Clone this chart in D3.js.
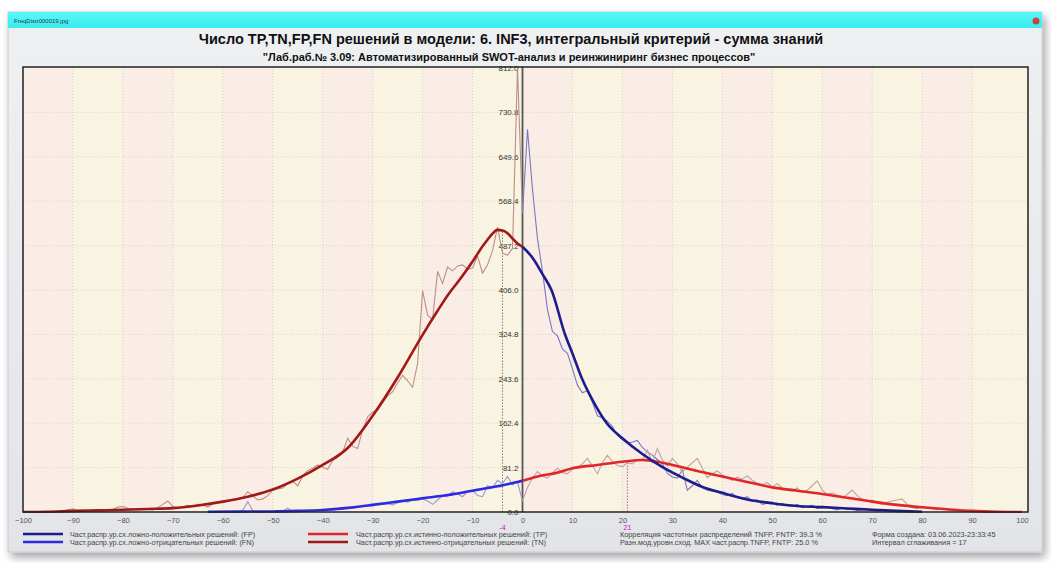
<!DOCTYPE html>
<html><head><meta charset="utf-8">
<script src="https://cdn.jsdelivr.net/npm/d3@7"></script>
<style>body{margin:0;background:#fff;}svg{display:block;font-family:"Liberation Sans",Arial,sans-serif;}</style>
</head><body>
<script>
// ---------- data ----------
const titleText = "Число TP,TN,FP,FN решений в модели: 6. INF3, интегральный критерий - сумма знаний";
const subtitleText = "\"Лаб.раб.№ 3.09: Автоматизированный SWOT-анализ и реинжиниринг бизнес процессов\"";
const windowCaption = "FreqDistr000019.jpg";
const xTicks = [-100,-90,-80,-70,-60,-50,-40,-30,-20,-10,0,10,20,30,40,50,60,70,80,90,100];
const yTicks = [0,81.2,162.4,243.6,324.8,406.0,487.2,568.4,649.6,730.8,812.0];
const modeMarks = [{x:-4, top:516, label:"-4"}, {x:21, top:93, label:"21"}];

// smoothed distributions
const tnSmoothX = [-100,-95,-90,-85,-80,-75,-70,-65,-60,-55,-50,-45,-40,-35,-30,-25,-20,-17,-15,-12,-10,-9,-8,-7,-6,-5,-4,-3,-2,-1,0];
const tnSmoothY = [0,0.5,2,3,4,5.5,7,12,19,28,41,61,86,117,176,246,324,368,396,432,458,472,486,498,509,516,515,510,500,491,485];
const fpSmoothX = [0,2,4,5.8,8.5,10,11.9,14,16.9,20,24,28.2,32,36,40,45,50,55,60,65,70,75,80];
const fpSmoothY = [485,465,435,406,325,290,244,205,162,135,106,81,63,46,35,23,16,11,9,6.5,4,2,0.5];
const tpSmoothX = [0,3,7,10,15,20,24,27,30,35,40,45,50,55,60,65,70,75,80,85,90,95,100];
const tpSmoothY = [57,65,72,80,86,92,95,92,86,75,65,55,45,39,33,26,19,13,8.6,5,2,0.5,0];
const fnSmoothX = [-63,-55,-50,-45,-40,-35,-30,-25,-20,-15,-10,-5,-1,0];
const fnSmoothY = [0.5,0.8,1,2,3.7,7.5,13,19,25,31,39,47,55,57];

// raw (unsmoothed) distributions, one value per unit step
const tnRawStart = -95;
const tnRaw = [1,0,1,2,4,6,2,1,2,3,2,4,3,5,9,10,7,5,4,6,5,4,8,14,20,10,7,9,12,10,14,13,9,15,18,17,20,22,24,26,37,30,22,24,30,40,42,44,52,56,48,66,76,80,86,82,78,94,100,110,135,120,116,150,174,183,186,200,212,220,236,250,240,228,272,405,360,352,440,418,448,441,450,452,444,446,468,437,452,478,521,473,470,482,812,545];
const fnRawStart = -62;
const fnRaw = [0,0,1,0,1,0,3,19,2,1,0,1,1,2,1,7,1,2,1,3,2,4,3,5,4,6,5,8,7,9,10,12,11,16,14,15,13,17,20,18,22,21,24,20,14,22,30,28,37,33,28,38,40,30,28,48,44,58,52,65,50,55,20];
const fpRawStart = 0;
const fpRaw = [545,700,590,500,440,370,330,322,298,290,262,232,218,222,200,176,172,166,156,140,132,126,128,131,118,110,104,96,88,71,64,62,77,40,48,58,44,40,38,36,32,30,34,26,24,28,20,22,14,16,18,12,16,12,10,14,8,10,12,6,8,10,6,4,8,5,6,3,4,6,3,2,4,2,1,2,1,1,0,1,0];
const tpRawStart = 0;
const tpRaw = [20,45,62,74,66,62,72,80,72,70,78,82,88,98,84,70,90,104,92,85,83,90,88,96,94,113,90,116,95,84,98,88,73,82,90,98,80,63,70,75,68,62,58,64,60,66,58,52,50,54,46,52,44,40,38,44,36,40,48,57,40,32,35,30,26,32,40,30,24,20,22,16,14,18,20,22,24,14,8,6,10,7,6,4,5,4,3,4,2,3,2,1,1,0,1,0];

const legendLeft = [
  {label:"Част.распр.ур.сх.ложно-положительных решений: (FP)", color:"#1c1c8e"},
  {label:"Част.распр.ур.сх.ложно-отрицательных решений: (FN)", color:"#2a2ae0"}
];
const legendMid = [
  {label:"Част.распр.ур.сх.истинно-положительных решений: (TP)", color:"#e02626"},
  {label:"Част.распр.ур.сх.истинно-отрицательных решений: (TN)", color:"#a01818"}
];
const infoLines1 = ["Корреляция частотных распределений TNFP, FNTP: 39.3 %", "Разн.мод.уровн.сход. MAX част.распр.TNFP, FNTP:  25.0 %"];
const infoLines2 = ["Форма создана: 03.06.2023-23:33:45", "Интервал сглаживания = 17"];

// ---------- drawing ----------
const W = 1051, H = 563;
const svg = d3.select("body").append("svg").attr("width", W).attr("height", H);
const defs = svg.append("defs");
const sh = defs.append("filter").attr("id","shadow").attr("x","-5%").attr("y","-5%").attr("width","115%").attr("height","120%");
sh.append("feDropShadow").attr("dx",3).attr("dy",5).attr("stdDeviation",4).attr("flood-color","#000").attr("flood-opacity",0.35);
const bodyGrad = defs.append("linearGradient").attr("id","bodyGrad").attr("x1",0).attr("y1",0).attr("x2",0).attr("y2",1);
bodyGrad.append("stop").attr("offset","0%").attr("stop-color","#eef0f2");
bodyGrad.append("stop").attr("offset","100%").attr("stop-color","#e2e4e7");
const capGrad = defs.append("linearGradient").attr("id","capGrad").attr("x1",0).attr("y1",0).attr("x2",0).attr("y2",1);
capGrad.append("stop").attr("offset","0%").attr("stop-color","#5af8f8");
capGrad.append("stop").attr("offset","100%").attr("stop-color","#38ecee");

svg.append("rect").attr("width",W).attr("height",H).attr("fill","#fff");
// window
svg.append("rect").attr("x",8).attr("y",12).attr("width",1034).attr("height",540)
  .attr("fill","url(#bodyGrad)").attr("stroke","#c8cacd").attr("filter","url(#shadow)");
svg.append("rect").attr("x",8).attr("y",12).attr("width",1034).attr("height",16).attr("fill","url(#capGrad)");
svg.append("text").attr("x",14).attr("y",23).attr("font-size",6).attr("fill","#335").text(windowCaption);
svg.append("circle").attr("cx",1036).attr("cy",21).attr("r",3.5).attr("fill","#d04040");

const L = 23, R = 1028, T = 67, B = 512;
const x = d3.scaleLinear().domain([-100,100]).range([23,1022]);
const y = d3.scaleLinear().domain([0,812]).range([512,68]);

const plot = svg.append("g");
// vertical bands
const bandStarts = d3.range(0,20);
plot.selectAll("rect.band").data(bandStarts).join("rect")
  .attr("x", i => x(-100 + 10*i))
  .attr("width", i => (i===19 ? R : x(-90 + 10*i)) - x(-100 + 10*i))
  .attr("y", T).attr("height", B - T)
  .attr("fill", i => i % 2 === 0 ? "#faede5" : "#f9f3e2");

// grid
plot.selectAll("line.vg").data(xTicks.filter(v => v>-100 && v<100 && v!==0)).join("line")
  .attr("x1", d => x(d)).attr("x2", d => x(d)).attr("y1", T).attr("y2", B)
  .attr("stroke","#d9d2cb").attr("stroke-width",1).attr("stroke-dasharray","1,2");
plot.selectAll("line.hg").data(yTicks.filter(v => v>0 && v<812)).join("line")
  .attr("x1", L).attr("x2", R).attr("y1", d => y(d)).attr("y2", d => y(d))
  .attr("stroke","#d9d2cb").attr("stroke-width",1).attr("stroke-dasharray","1,2");

// mode markers
plot.selectAll("line.mode").data(modeMarks).join("line")
  .attr("x1", d => x(d.x)).attr("x2", d => x(d.x)).attr("y1", B).attr("y2", d => y(d.top))
  .attr("stroke","#8a7f80").attr("stroke-width",1).attr("stroke-dasharray","1.5,1.5");

// zero axis
plot.append("line").attr("x1",x(0)).attr("x2",x(0)).attr("y1",T).attr("y2",B)
  .attr("stroke","#555").attr("stroke-width",1.8);

// y labels
plot.selectAll("text.yl").data(yTicks).join("text")
  .attr("x", x(0) - 4).attr("y", d => y(d) + 3)
  .attr("text-anchor","end").attr("font-size",8).attr("fill","#333")
  .text(d => d.toFixed(1));

// lines
const clip = defs.append("clipPath").attr("id","plotClip");
clip.append("rect").attr("x",L).attr("y",T).attr("width",R-L).attr("height",B-T+1);
const lines = plot.append("g").attr("clip-path","url(#plotClip)");
const smoothLine = d3.line().x(d => x(d[0])).y(d => y(d[1])).curve(d3.curveMonotoneX);
const rawLine = d3.line().x(d => x(d[0])).y(d => y(d[1]));
const zipXY = (xs, ys) => xs.map((v,i) => [v, ys[i]]);
const rawPts = (start, vals) => vals.map((v,i) => [start + i, v]);

lines.append("path").attr("d", rawLine(rawPts(tnRawStart, tnRaw))).attr("fill","none").attr("stroke","#bb8e88").attr("stroke-width",1.1);
lines.append("path").attr("d", rawLine(rawPts(fnRawStart, fnRaw))).attr("fill","none").attr("stroke","#9a98d0").attr("stroke-width",1.1);
lines.append("path").attr("d", rawLine(rawPts(fpRawStart, fpRaw))).attr("fill","none").attr("stroke","#7a78c4").attr("stroke-width",1.1);
lines.append("path").attr("d", rawLine(rawPts(tpRawStart, tpRaw))).attr("fill","none").attr("stroke","#c2a0a2").attr("stroke-width",1.1);

lines.append("path").attr("d", smoothLine(zipXY(fnSmoothX, fnSmoothY))).attr("fill","none").attr("stroke",legendLeft[1].color).attr("stroke-width",2.6);
lines.append("path").attr("d", smoothLine(zipXY(tpSmoothX, tpSmoothY))).attr("fill","none").attr("stroke",legendMid[0].color).attr("stroke-width",2.6);
lines.append("path").attr("d", smoothLine(zipXY(fpSmoothX, fpSmoothY))).attr("fill","none").attr("stroke",legendLeft[0].color).attr("stroke-width",2.6);
lines.append("path").attr("d", smoothLine(zipXY(tnSmoothX, tnSmoothY))).attr("fill","none").attr("stroke",legendMid[1].color).attr("stroke-width",2.6);

// frame
plot.append("rect").attr("x",L).attr("y",T).attr("width",R-L).attr("height",B-T)
  .attr("fill","none").attr("stroke","#222").attr("stroke-width",1.5);

// x axis labels
const xAxis = d3.axisBottom(x).tickValues(xTicks).tickSize(0).tickPadding(6).tickFormat(d3.format("d"));
const xg = svg.append("g").attr("transform",`translate(0,${B})`).call(xAxis);
xg.select(".domain").remove();
xg.selectAll("text").attr("font-size",7.5).attr("fill","#555").attr("font-family","Liberation Sans, Arial");
svg.selectAll("text.ml").data(modeMarks).join("text")
  .attr("x", d => x(d.x)).attr("y", 530).attr("text-anchor","middle")
  .attr("font-size",7).attr("fill","#c020c0").text(d => d.label);

// titles
svg.append("text").attr("x",511).attr("y",44).attr("text-anchor","middle").attr("font-size",14.5)
  .attr("font-weight","bold").attr("fill","#111").text(titleText);
svg.append("text").attr("x",509).attr("y",61).attr("text-anchor","middle").attr("font-size",11)
  .attr("font-weight","bold").attr("fill","#111").text(subtitleText);

// legend
function legendBlock(items, x0, tx) {
  items.forEach((it, i) => {
    const yy = 534 + i*8;
    svg.append("line").attr("x1",x0).attr("x2",x0+40).attr("y1",yy).attr("y2",yy)
      .attr("stroke",it.color).attr("stroke-width",2.5);
    svg.append("text").attr("x",tx).attr("y",yy+2.5).attr("font-size",7.3).attr("fill","#444").text(it.label);
  });
}
legendBlock(legendLeft, 23, 70);
legendBlock(legendMid, 308, 356);
infoLines1.forEach((t,i) => svg.append("text").attr("x",620).attr("y",536.5+i*8).attr("font-size",7.3).attr("fill","#444").text(t));
infoLines2.forEach((t,i) => svg.append("text").attr("x",872).attr("y",536.5+i*8).attr("font-size",7.3).attr("fill","#444").text(t));
</script>
</body></html>
